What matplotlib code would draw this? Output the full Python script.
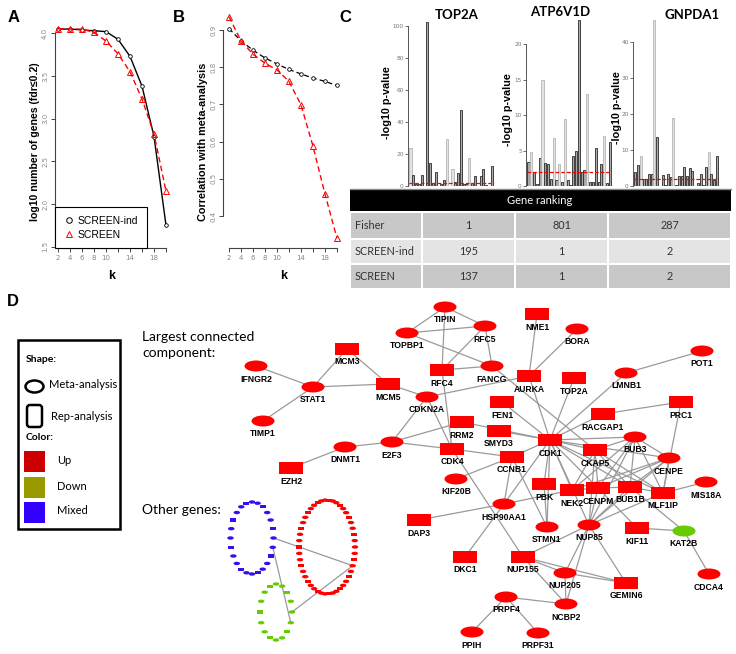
import numpy as np
import matplotlib.pyplot as plt
from matplotlib.patches import Ellipse, Rectangle, FancyBboxPatch
from matplotlib.lines import Line2D

W, H = 736, 654
DPI = 100

# panel A / B
k = [2, 4, 6, 8, 10, 12, 14, 16, 18, 20]
a_screen_ind = [4.05, 4.05, 4.04, 4.03, 4.02, 3.93, 3.73, 3.38, 2.79, 1.75]
a_screen = [4.055, 4.05, 4.05, 4.01, 3.91, 3.76, 3.55, 3.23, 2.82, 2.15]
b_screen_ind = [0.904, 0.871, 0.846, 0.825, 0.809, 0.794, 0.782, 0.771, 0.762, 0.751]
b_screen = [0.936, 0.871, 0.835, 0.811, 0.793, 0.762, 0.699, 0.588, 0.459, 0.340]

# panel C: -log10 p per dataset
genes = ['TOP2A', 'ATP6V1D', 'GNPDA1']
top2a_p = [24, 7, 1, 1, 6.6, 0, 103, 14.5, 2, 8.7, 0, 1.5, 4, 29.5, 0,
           10.8, 2.5, 8, 47.5, 1, 1.5, 17.6, 2, 6, 0, 6, 10.8, 0.5, 0, 12.4]
atp6v1d_p = [3.4, 4.8, 2.0, 0.3, 3.9, 15.0, 3.3, 3.1, 1.0, 6.7, 0.9, 3.1, 0.6, 9.4, 0.8,
             0.2, 4.2, 5.0, 23.4, 2.0, 2.3, 12.9, 0.6, 0.6, 5.4, 0.6, 3.1, 7.1, 0.4, 6.2]
gnpda1_p = [3.9, 5.8, 8.3, 1.9, 1.9, 3.3, 3.2, 46, 13.5, 0, 3.0, 0.2, 3.4, 2.5, 18.8,
            0.2, 2.7, 2.7, 5.3, 2.7, 5.0, 4.2, 0, 0.8, 3.2, 0.2, 5.3, 9.5, 3.3, 1.6, 8.4]
methods = ['Fisher', 'SCREEN-ind', 'SCREEN']
rank_top2a = [1, 195, 137]
rank_atp6v1d = [801, 1, 1]
rank_gnpda1 = [287, 2, 2]

# panel D network
net_genes = ['TIPIN', 'RFC5', 'TOPBP1', 'NME1', 'BORA', 'POT1', 'RFC4', 'FANCG', 'AURKA',
             'TOP2A', 'LMNB1', 'MCM3', 'IFNGR2', 'STAT1', 'MCM5', 'CDKN2A', 'TIMP1', 'FEN1',
             'PRC1', 'RACGAP1', 'RRM2', 'SMYD3', 'CDK1', 'BUB3', 'E2F3', 'DNMT1', 'CDK4',
             'CKAP5', 'CENPE', 'CCNB1', 'EZH2', 'KIF20B', 'PBK', 'NEK2', 'CENPM', 'BUB1B',
             'MLF1IP', 'MIS18A', 'HSP90AA1', 'DAP3', 'STMN1', 'NUP85', 'KIF11', 'KAT2B',
             'DKC1', 'NUP155', 'NUP205', 'CDCA4', 'GEMIN6', 'PRPF4', 'NCBP2', 'PPIH', 'PRPF31']
rep_genes = ['NME1', 'RFC4', 'AURKA', 'TOP2A', 'MCM3', 'MCM5', 'FEN1', 'PRC1', 'RACGAP1',
             'RRM2', 'SMYD3', 'CDK1', 'CDK4', 'CKAP5', 'CCNB1', 'EZH2', 'PBK', 'NEK2',
             'CENPM', 'BUB1B', 'MLF1IP', 'DAP3', 'KIF11', 'DKC1', 'NUP155', 'GEMIN6']
down_genes = ['KAT2B']
edges = [
    ('IFNGR2', 'STAT1'), ('TIMP1', 'STAT1'), ('STAT1', 'MCM3'), ('STAT1', 'MCM5'),
    ('MCM3', 'MCM5'), ('MCM5', 'CDKN2A'), ('TIPIN', 'TOPBP1'), ('TIPIN', 'RFC5'),
    ('TIPIN', 'RFC4'), ('TOPBP1', 'RFC5'), ('TOPBP1', 'FANCG'), ('RFC5', 'RFC4'),
    ('RFC5', 'FANCG'), ('RFC4', 'FANCG'), ('RFC4', 'CDK4'), ('CDKN2A', 'AURKA'),
    ('CDKN2A', 'E2F3'), ('CDKN2A', 'CDK4'), ('NME1', 'AURKA'), ('BORA', 'AURKA'),
    ('AURKA', 'CDK1'), ('FANCG', 'CKAP5'), ('FEN1', 'CDK1'), ('TOP2A', 'CDK1'),
    ('LMNB1', 'CDK1'), ('LMNB1', 'POT1'), ('RACGAP1', 'CDK1'), ('RACGAP1', 'PRC1'),
    ('PRC1', 'MLF1IP'), ('E2F3', 'RRM2'), ('E2F3', 'CDK4'), ('DNMT1', 'E2F3'),
    ('DNMT1', 'EZH2'), ('RRM2', 'CDK1'), ('SMYD3', 'CDK1'), ('CDK4', 'CCNB1'),
    ('CCNB1', 'CDK1'), ('CCNB1', 'KIF20B'), ('CCNB1', 'HSP90AA1'), ('CDK4', 'NUP155'),
    ('CCNB1', 'STMN1'), ('HSP90AA1', 'CDK1'), ('HSP90AA1', 'NEK2'), ('HSP90AA1', 'DAP3'),
    ('HSP90AA1', 'DKC1'), ('CDK1', 'PBK'), ('PBK', 'STMN1'), ('CDK1', 'STMN1'),
    ('CDK1', 'CKAP5'), ('CDK1', 'BUB3'), ('CDK1', 'CENPE'), ('CDK1', 'NEK2'),
    ('CDK1', 'CENPM'), ('CDK1', 'BUB1B'), ('CDK1', 'MLF1IP'), ('CKAP5', 'BUB3'),
    ('CKAP5', 'NEK2'), ('CKAP5', 'CENPM'), ('CKAP5', 'BUB1B'), ('CKAP5', 'MLF1IP'),
    ('BUB3', 'CENPE'), ('BUB3', 'NEK2'), ('BUB3', 'CENPM'), ('BUB3', 'BUB1B'),
    ('BUB3', 'MLF1IP'), ('CENPE', 'CENPM'), ('CENPE', 'BUB1B'), ('CENPE', 'MLF1IP'),
    ('CENPE', 'NEK2'), ('NEK2', 'CENPM'), ('CENPM', 'BUB1B'), ('BUB1B', 'MLF1IP'),
    ('MLF1IP', 'MIS18A'), ('NUP85', 'CDK1'), ('NUP85', 'CKAP5'), ('NUP85', 'BUB3'),
    ('NUP85', 'CENPE'), ('NUP85', 'CENPM'), ('NUP85', 'BUB1B'), ('NUP85', 'MLF1IP'),
    ('NUP85', 'NUP155'), ('NUP85', 'NUP205'), ('NUP85', 'GEMIN6'), ('NUP85', 'NCBP2'),
    ('CENPM', 'KIF11'), ('BUB1B', 'KAT2B'), ('KIF11', 'KAT2B'), ('KAT2B', 'CDCA4'),
    ('NUP155', 'NUP205'), ('NUP155', 'GEMIN6'), ('NUP155', 'NCBP2'), ('NUP205', 'GEMIN6'),
    ('NUP205', 'NCBP2'), ('PRPF4', 'NCBP2'), ('PRPF4', 'PPIH'), ('PRPF4', 'PRPF31'),
]
# other genes (not in the largest component)
other_mixed_n = 24
other_up_n = 46
other_down_n = 16

# ---------------- layout (pixels) ----------------
node_xy = {
    'TIPIN': (445, 307), 'RFC5': (485, 326), 'TOPBP1': (407, 333), 'NME1': (537, 314),
    'BORA': (577, 329), 'POT1': (702, 351), 'RFC4': (442, 370), 'FANCG': (492, 366),
    'AURKA': (529, 376), 'TOP2A': (574, 378), 'LMNB1': (626, 373), 'MCM3': (347, 349),
    'IFNGR2': (256, 366), 'STAT1': (313, 387), 'MCM5': (388, 384), 'CDKN2A': (427, 397),
    'TIMP1': (263, 421), 'FEN1': (502, 402), 'PRC1': (681, 402), 'RACGAP1': (603, 414),
    'RRM2': (462, 422), 'SMYD3': (499, 431), 'CDK1': (550, 440), 'BUB3': (635, 437),
    'E2F3': (392, 442), 'DNMT1': (345, 447), 'CDK4': (452, 449), 'CKAP5': (595, 450),
    'CENPE': (669, 458), 'CCNB1': (512, 457), 'EZH2': (291, 468), 'KIF20B': (456, 479),
    'PBK': (544, 484), 'NEK2': (572, 490), 'CENPM': (598, 488), 'BUB1B': (630, 487),
    'MLF1IP': (663, 493), 'MIS18A': (706, 482), 'HSP90AA1': (504, 504), 'DAP3': (419, 520),
    'STMN1': (547, 527), 'NUP85': (589, 525), 'KIF11': (637, 528), 'KAT2B': (684, 531),
    'DKC1': (465, 557), 'NUP155': (523, 557), 'NUP205': (565, 573), 'CDCA4': (709, 574),
    'GEMIN6': (626, 583), 'PRPF4': (506, 597), 'NCBP2': (566, 604), 'PPIH': (472, 632),
    'PRPF31': (538, 633),
}
UP_RED = '#ff0000'
DOWN_GREEN = '#66cc00'
MIXED_BLUE = '#3311ee'
EDGE_GREY = '#9a9a9a'
ARIAL = 'Liberation Sans'
CALIBRI = 'Lato'

fig = plt.figure(figsize=(W / DPI, H / DPI), dpi=DPI)


def px_axes(left, top, right, bottom):
    return fig.add_axes([left / W, 1 - bottom / H, (right - left) / W, (bottom - top) / H])


def r_style(ax, xb, yb, ylabels):
    for s in ['top', 'right']:
        ax.spines[s].set_visible(False)
    ax.spines['left'].set_bounds(*yb)
    ax.spines['bottom'].set_bounds(*xb)
    for s in ['left', 'bottom']:
        ax.spines[s].set_linewidth(0.8)
        ax.spines[s].set_color('#444444')
    ax.set_xticks(k)
    ax.set_xticklabels([str(v) if v in (2, 4, 6, 8, 10, 14, 18) else '' for v in k])
    ax.set_yticks(ylabels)
    ax.set_yticklabels(['%.1f' % v for v in ylabels], rotation=90, va='center')
    ax.tick_params(direction='out', length=3, width=0.7, color='#444444',
                   labelsize=5, labelcolor='#888888', pad=2)


# ---- A
axA = px_axes(55, 20, 171, 248)
axA.plot(k, a_screen_ind, color='black', lw=1, marker='o', ms=2.6, mfc='white', mew=0.6)
axA.plot(k, a_screen, color='red', lw=1, ls=(0, (4, 2.5)), marker='^', ms=4.5,
         mfc='none', mew=0.7)
axA.set_xlim(1.5, 20.83)
axA.set_ylim(1.485, 4.156)
r_style(axA, (2, 20), (1.5, 4.0), [1.5, 2.0, 2.5, 3.0, 3.5, 4.0])
handles = [Line2D([], [], ls='none', marker='o', ms=4, mfc='none', mec='black', mew=0.7),
           Line2D([], [], ls='none', marker='^', ms=5, mfc='none', mec='red', mew=0.7)]
leg = axA.legend(handles, ['SCREEN-ind', 'SCREEN'], loc='lower left', borderaxespad=0,
                 fancybox=False, framealpha=1, edgecolor='black', handletextpad=0.4,
                 handlelength=1.0, borderpad=0.8, labelspacing=0.4,
                 prop={'family': ARIAL, 'size': 7.5})
leg.get_frame().set_linewidth(0.8)

# ---- B
axB = px_axes(223, 10, 341, 248)
axB.plot(k, b_screen_ind, color='black', lw=0.9, ls=(0, (4, 2.5)), marker='o', ms=2.6,
         mfc='white', mew=0.6)
axB.plot(k, b_screen, color='red', lw=1, ls=(0, (4, 2.5)), marker='^', ms=4.5,
         mfc='none', mew=0.7)
axB.set_xlim(1.0, 20.67)
axB.set_ylim(0.314, 0.954)
r_style(axB, (2, 20), (0.4, 0.9), [0.4, 0.5, 0.6, 0.7, 0.8, 0.9])

# ---- C bar charts
light_bars = [[0, 13, 15, 21], [1, 5, 9, 11, 13, 21, 27], [2, 7, 14, 27]]
bar_specs = [
    (top2a_p, (408, 494), 104, [0, 20, 40, 60, 80, 100], 100),
    (atp6v1d_p, (526, 612), 23.4, [0, 5, 10, 15, 20], 20),
    (gnpda1_p, (633, 719), 46.1, [0, 10, 20, 30, 40], 40),
]
for (vals, (l, r), ymax, yt, ytop), light in zip(bar_specs, light_bars):
    ax = px_axes(l, 186 - 166, r, 186)
    x = np.arange(len(vals))
    fc = ['#e2e2e2' if i in light else '#a8a8a8' for i in x]
    ec = ['#b5b5b5' if i in light else '#2a2a2a' for i in x]
    ax.bar(x, vals, width=0.75, color=fc, edgecolor=ec, linewidth=0.6)
    ax.hlines(2, -0.5, len(vals) - 0.5, color='red', ls=(0, (3, 1.5)), lw=0.9, zorder=3)
    ax.set_xlim(-0.9, len(vals) - 0.2)
    ax.set_ylim(0, ymax)
    ax.set_xticks([])
    ax.set_yticks(yt)
    for s in ['top', 'right', 'bottom']:
        ax.spines[s].set_visible(False)
    ax.spines['left'].set_bounds(0, ytop)
    ax.spines['left'].set_linewidth(0.7)
    ax.spines['left'].set_color('#555555')
    ax.tick_params(direction='out', length=2, width=0.6, color='#555555',
                   labelsize=4.2, labelcolor='#777777', pad=1)
    ax.patch.set_alpha(0)

# ---- overlay in pixel coordinates
ov = fig.add_axes([0, 0, 1, 1])
ov.set_xlim(0, W)
ov.set_ylim(H, 0)
ov.axis('off')

for lab, (x, y) in zip('ABCD', [(14, 18), (179, 17), (345, 17), (13, 301)]):
    ov.text(x, y, lab, fontsize=12, fontweight='bold', family=ARIAL, ha='center', va='center')

ov.text(35, 142, 'log10 number of genes (fdr\u22640.2)', rotation=90, ha='center',
        va='center', fontsize=7.6, fontweight='bold', family=ARIAL)
ov.text(203, 142, 'Correlation with meta-analysis', rotation=90, ha='center', va='center',
        fontsize=7.8, fontweight='bold', family=ARIAL)
for x in (112, 284):
    ov.text(x, 276, 'k', ha='center', va='center', fontsize=9, fontweight='bold', family=ARIAL)

for g, (tx, ty), (lx, ly) in zip(genes, [(457, 15), (560, 12), (692, 15)],
                                 [(387, 103), (508, 110), (617, 108)]):
    ov.text(tx, ty, g, ha='center', va='center', fontsize=9.5, fontweight='bold', family=CALIBRI)
    ov.text(lx, ly, '-log10 p-value', rotation=90, ha='center', va='center', fontsize=7.8,
            fontweight='bold', family=ARIAL)

# table
ov.plot([350, 731], [188.5, 188.5], color='#888888', lw=1)
ov.add_patch(Rectangle((350, 189), 381, 22, color='black', lw=0))
ov.text(540, 200, 'Gene ranking', color='white', ha='center', va='center', fontsize=8,
        family=CALIBRI)
col_x = [350, 422, 515, 608, 731]
row_y = [212, 239, 264, 289]
row_bg = ['#c8c8c8', '#e4e4e4', '#c8c8c8']
for i, m in enumerate(methods):
    y0, y1 = row_y[i], row_y[i + 1]
    for j in range(4):
        ov.add_patch(Rectangle((col_x[j] + 0.8, y0 + 0.8), col_x[j + 1] - col_x[j] - 1.6,
                               y1 - y0 - 1.6, color=row_bg[i], lw=0))
    ym = (y0 + y1) / 2
    ov.text(355, ym, m, ha='left', va='center', fontsize=7.8, color='#333333', family=CALIBRI)
    for j, ranks in enumerate([rank_top2a, rank_atp6v1d, rank_gnpda1]):
        ov.text((col_x[j + 1] + col_x[j + 2]) / 2, ym, str(ranks[i]), ha='center',
                va='center', fontsize=7.8, color='#333333', family=CALIBRI)

# D legend box
ov.add_patch(Rectangle((18, 340), 102, 189, fill=False, ec='black', lw=1.8))
ov.text(26, 359, 'Shape:', fontsize=7.5, fontweight='bold', family=CALIBRI, va='center')
ov.add_patch(Ellipse((34.5, 386.5), 18, 12, fill=False, ec='black', lw=1.8))
ov.text(49, 384, 'Meta-analysis', fontsize=8, family=CALIBRI, va='center')
ov.add_patch(FancyBboxPatch((27, 405), 15, 22, boxstyle='round,pad=0,rounding_size=3',
                            fill=False, ec='black', lw=1.8))
ov.text(51, 417, 'Rep-analysis', fontsize=8, family=CALIBRI, va='center')
ov.text(26, 438, 'Color:', fontsize=7.5, fontweight='bold', family=CALIBRI, va='center')
for (y, c, lab) in [(451, '#cc0000', 'Up'), (477, '#999900', 'Down'), (502, '#3300ff', 'Mixed')]:
    ov.add_patch(Rectangle((24, y), 21, 21, color=c, lw=0))
    ov.text(57, y + 9, lab, fontsize=8, family=CALIBRI, va='center')

ov.text(142, 345, 'Largest connected\ncomponent:', fontsize=10, family=CALIBRI, va='center',
        linespacing=1.35)
ov.text(142, 510, 'Other genes:', fontsize=10, family=CALIBRI, va='center')

# network edges, nodes, labels
for a, b in edges:
    (x0, y0), (x1, y1) = node_xy[a], node_xy[b]
    ov.plot([x0, x1], [y0, y1], color=EDGE_GREY, lw=0.9, zorder=2)
for g in net_genes:
    x, y = node_xy[g]
    c = DOWN_GREEN if g in down_genes else UP_RED
    if g in rep_genes:
        ov.add_patch(Rectangle((x - 12, y - 6), 24, 12, color=c, lw=0, zorder=3))
    else:
        ov.add_patch(Ellipse((x, y), 23, 11, color=c, lw=0, zorder=3))
    ov.text(x, y + 13, g, ha='center', va='center', fontsize=6.2, fontweight='bold',
            family=ARIAL, zorder=4)

# other genes rings
rings = {}
for name, n, (cx, cy), (rx, ry), c in [('mixed', other_mixed_n, (252, 538), (21.5, 36), MIXED_BLUE),
                                       ('up', other_up_n, (327, 547), (28, 47), UP_RED),
                                       ('down', other_down_n, (276, 612), (16, 28), DOWN_GREEN)]:
    t = 2 * np.pi * np.arange(n) / n
    xs, ys = cx + rx * np.cos(t), cy + ry * np.sin(t)
    rings[name] = list(zip(xs, ys))
    for i, (x, y) in enumerate(zip(xs, ys)):
        if i % 3 == 2:
            ov.add_patch(Rectangle((x - 3, y - 1.6), 6, 3.2, color=c, lw=0, zorder=3))
        else:
            ov.add_patch(Ellipse((x, y), 6.5, 3.4, color=c, lw=0, zorder=3))
for (ra, ia), (rb, ib) in [(('mixed', 0), ('up', 3)), (('mixed', 1), ('down', 1)),
                           (('down', 0), ('up', 3))]:
    (x0, y0), (x1, y1) = rings[ra][ia], rings[rb][ib]
    ov.plot([x0, x1], [y0, y1], color=EDGE_GREY, lw=0.9, zorder=2)

fig.savefig('out.png', dpi=DPI)
